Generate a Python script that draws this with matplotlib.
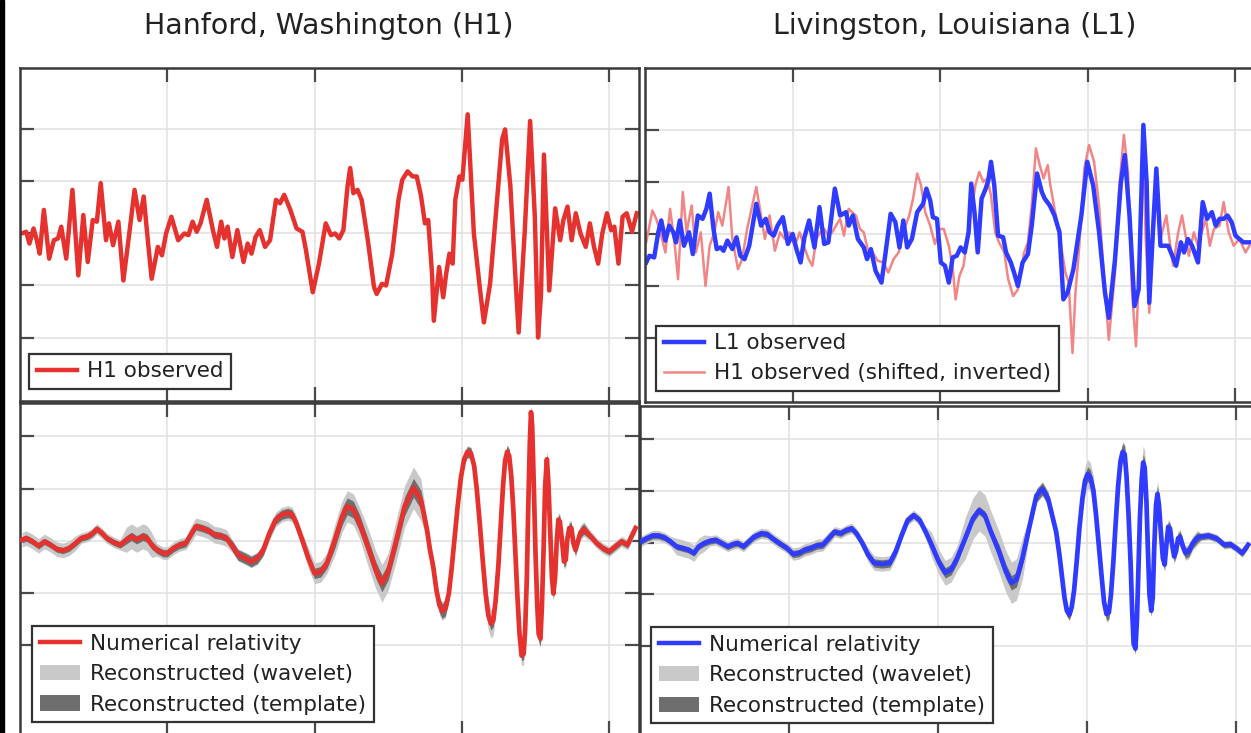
import numpy as np
import matplotlib
matplotlib.use("Agg")
import matplotlib.pyplot as plt
from matplotlib.patches import Patch, Rectangle
from matplotlib.lines import Line2D

# time (s) and strain (10^-21) for each trace

# Hanford, observed
h1_t = [0.2505, 0.2521, 0.2532, 0.2546, 0.2557, 0.2567, 0.2581, 0.2599, 0.2615, 0.2629,
        0.2640, 0.2657, 0.2678, 0.2698, 0.2715, 0.2730, 0.2747, 0.2761, 0.2774, 0.2792,
        0.2802, 0.2816, 0.2834, 0.2851, 0.2871, 0.2889, 0.2906, 0.2920, 0.2934, 0.2947,
        0.2968, 0.2982, 0.2996, 0.3014, 0.3037, 0.3058, 0.3072, 0.3086, 0.3100, 0.3113,
        0.3134, 0.3155, 0.3169, 0.3183, 0.3194, 0.3205, 0.3221, 0.3238, 0.3259, 0.3273,
        0.3286, 0.3300, 0.3314, 0.3332, 0.3349, 0.3369, 0.3383, 0.3397, 0.3418, 0.3439,
        0.3459, 0.3471, 0.3494, 0.3515, 0.3538, 0.3556, 0.3570, 0.3584, 0.3598, 0.3612,
        0.3621, 0.3632, 0.3646, 0.3660, 0.3681, 0.3702, 0.3711, 0.3729, 0.3743, 0.3764,
        0.3785, 0.3798, 0.3816, 0.3833, 0.3847, 0.3861, 0.3875, 0.3886, 0.3899, 0.3905,
        0.3923, 0.3937, 0.3947, 0.3958, 0.3969, 0.3978, 0.3992, 0.4002, 0.4020, 0.4041,
        0.4061, 0.4075, 0.4096, 0.4117, 0.4137, 0.4147, 0.4165, 0.4182, 0.4193, 0.4214,
        0.4232, 0.4248, 0.4259, 0.4269, 0.4279, 0.4297, 0.4317, 0.4334, 0.4345, 0.4359,
        0.4373, 0.4387, 0.4403, 0.4421, 0.4435, 0.4449, 0.4463, 0.4477, 0.4493, 0.4507,
        0.4518, 0.4532, 0.4546, 0.4560, 0.4578, 0.4594]
h1_obs = [0.000, 0.016, -0.097, 0.048, -0.065, -0.194, 0.226, -0.242, -0.065, -0.048,
          0.065, -0.242, 0.419, -0.403, 0.177, -0.274, 0.129, 0.113, 0.484, -0.065,
          0.097, -0.113, 0.113, -0.452, 0.000, 0.419, 0.129, 0.355, -0.065, -0.435,
          -0.129, -0.210, 0.000, 0.161, -0.065, 0.000, -0.016, 0.113, 0.016, 0.097,
          0.323, 0.032, -0.129, 0.113, -0.048, 0.065, -0.226, 0.032, -0.274, -0.097,
          -0.194, -0.032, 0.032, -0.129, -0.065, 0.323, 0.290, 0.371, 0.226, 0.048,
          0.016, -0.161, -0.565, -0.290, 0.097, -0.016, 0.000, -0.048, 0.032, 0.452,
          0.629, 0.387, 0.419, 0.323, -0.065, -0.516, -0.581, -0.484, -0.500, -0.194,
          0.323, 0.516, 0.597, 0.548, 0.548, 0.371, 0.097, 0.129, -0.387, -0.839,
          -0.323, -0.613, -0.387, -0.194, -0.290, 0.323, 0.548, 0.516, 1.145, 0.000,
          -0.516, -0.855, -0.484, 0.226, 0.903, 1.000, 0.452, -0.419, -0.952, 0.032,
          1.081, 0.161, -1.000, -0.581, 0.758, -0.548, 0.242, -0.065, 0.129, 0.258,
          -0.065, 0.194, 0.000, -0.129, 0.097, -0.129, -0.290, 0.000, 0.194, 0.032,
          0.065, -0.290, 0.161, 0.194, 0.016, 0.194]

# Livingston, observed
l1_t = [0.2504, 0.2515, 0.2531, 0.2545, 0.2555, 0.2569, 0.2582, 0.2596, 0.2605, 0.2618,
        0.2632, 0.2649, 0.2662, 0.2679, 0.2695, 0.2708, 0.2719, 0.2732, 0.2743, 0.2756,
        0.2766, 0.2779, 0.2796, 0.2810, 0.2823, 0.2837, 0.2853, 0.2877, 0.2893, 0.2909,
        0.2922, 0.2936, 0.2949, 0.2967, 0.2984, 0.3000, 0.3013, 0.3027, 0.3040, 0.3056,
        0.3074, 0.3091, 0.3107, 0.3121, 0.3143, 0.3161, 0.3181, 0.3190, 0.3204, 0.3221,
        0.3241, 0.3252, 0.3265, 0.3281, 0.3301, 0.3315, 0.3332, 0.3348, 0.3362, 0.3375,
        0.3388, 0.3404, 0.3422, 0.3442, 0.3453, 0.3466, 0.3475, 0.3489, 0.3502, 0.3516,
        0.3529, 0.3542, 0.3556, 0.3569, 0.3583, 0.3596, 0.3605, 0.3616, 0.3627, 0.3640,
        0.3654, 0.3663, 0.3672, 0.3683, 0.3696, 0.3713, 0.3723, 0.3739, 0.3750, 0.3763,
        0.3779, 0.3797, 0.3810, 0.3828, 0.3844, 0.3854, 0.3871, 0.3887, 0.3904, 0.3917,
        0.3931, 0.3951, 0.3978, 0.3998, 0.4018, 0.4038, 0.4058, 0.4071, 0.4092, 0.4112,
        0.4125, 0.4141, 0.4158, 0.4172, 0.4188, 0.4199, 0.4208, 0.4219, 0.4232, 0.4246,
        0.4259, 0.4272, 0.4286, 0.4299, 0.4315, 0.4326, 0.4339, 0.4353, 0.4373, 0.4389,
        0.4404, 0.4420, 0.4433, 0.4446, 0.4460, 0.4473, 0.4487, 0.4500, 0.4513, 0.4527,
        0.4547]
l1_obs = [-0.273, -0.209, -0.225, 0.016, 0.129, -0.064, 0.080, 0.016, -0.080, 0.129,
          -0.113, 0.016, -0.193, 0.177, 0.145, 0.241, 0.386, 0.048, -0.145, -0.129,
          -0.161, -0.064, -0.145, -0.032, -0.209, -0.241, -0.113, 0.289, 0.080, 0.145,
          0.016, -0.016, 0.080, 0.161, -0.096, 0.000, -0.145, -0.273, -0.032, 0.129,
          -0.129, 0.257, -0.096, -0.080, 0.434, 0.177, 0.209, 0.080, 0.177, -0.048,
          -0.129, -0.241, -0.145, -0.354, -0.466, -0.177, 0.193, 0.113, -0.129, 0.129,
          -0.129, -0.048, 0.209, 0.289, 0.434, 0.322, 0.161, 0.145, -0.273, -0.305,
          -0.466, -0.225, -0.209, -0.129, -0.177, 0.016, 0.482, 0.209, -0.177, 0.338,
          0.434, 0.514, 0.691, 0.466, -0.016, -0.032, -0.177, -0.273, -0.370, -0.498,
          -0.273, -0.193, 0.080, 0.579, 0.402, 0.338, 0.273, 0.177, 0.016, -0.627,
          -0.563, -0.338, 0.177, 0.691, 0.466, 0.016, -0.563, -0.804, -0.241, 0.498,
          0.756, 0.177, -0.691, -0.531, 1.045, 0.498, -0.659, -0.048, 0.627, -0.113,
          -0.113, -0.113, -0.209, -0.305, -0.080, -0.177, -0.048, -0.113, -0.273, 0.305,
          0.145, 0.209, 0.080, 0.145, 0.145, 0.177, 0.113, -0.016, -0.048, -0.080,
          -0.080]

# Hanford, shifted and sign-flipped for comparison with Livingston
h1s_t = [0.2504, 0.2525, 0.2538, 0.2555, 0.2569, 0.2585, 0.2601, 0.2612, 0.2628, 0.2641,
         0.2658, 0.2672, 0.2689, 0.2705, 0.2719, 0.2735, 0.2748, 0.2762, 0.2783, 0.2796,
         0.2815, 0.2829, 0.2846, 0.2877, 0.2893, 0.2906, 0.2922, 0.2940, 0.2957, 0.2973,
         0.2989, 0.3007, 0.3024, 0.3040, 0.3054, 0.3067, 0.3080, 0.3094, 0.3107, 0.3121,
         0.3134, 0.3147, 0.3161, 0.3174, 0.3190, 0.3201, 0.3214, 0.3228, 0.3241, 0.3254,
         0.3271, 0.3288, 0.3308, 0.3324, 0.3342, 0.3359, 0.3375, 0.3395, 0.3408, 0.3422,
         0.3435, 0.3449, 0.3466, 0.3482, 0.3498, 0.3512, 0.3529, 0.3542, 0.3552, 0.3565,
         0.3579, 0.3592, 0.3605, 0.3619, 0.3632, 0.3646, 0.3659, 0.3672, 0.3686, 0.3699,
         0.3717, 0.3730, 0.3747, 0.3763, 0.3784, 0.3797, 0.3810, 0.3824, 0.3837, 0.3850,
         0.3864, 0.3873, 0.3887, 0.3900, 0.3913, 0.3924, 0.3935, 0.3948, 0.3958, 0.3971,
         0.3988, 0.4004, 0.4021, 0.4038, 0.4055, 0.4071, 0.4092, 0.4105, 0.4122, 0.4136,
         0.4149, 0.4163, 0.4179, 0.4188, 0.4196, 0.4208, 0.4221, 0.4232, 0.4246, 0.4266,
         0.4276, 0.4289, 0.4306, 0.4319, 0.4333, 0.4342, 0.4359, 0.4373, 0.4386, 0.4400,
         0.4413, 0.4427, 0.4446, 0.4460, 0.4477, 0.4494, 0.4513, 0.4534, 0.4547]
h1s_obs = [-0.080, 0.225, 0.145, -0.016, -0.177, 0.241, -0.113, -0.434, 0.402, 0.016,
           0.273, -0.177, 0.016, -0.498, -0.113, 0.016, 0.209, 0.080, 0.450, -0.048,
           -0.338, -0.241, 0.048, 0.450, 0.177, -0.048, 0.177, -0.161, 0.016, -0.048,
           0.016, -0.113, 0.016, -0.129, -0.241, -0.305, -0.048, 0.016, 0.048, -0.016,
           0.016, 0.080, 0.145, -0.016, 0.241, 0.209, 0.177, 0.048, 0.016, -0.145,
           -0.177, -0.257, -0.273, -0.370, -0.241, -0.177, 0.016, 0.177, 0.338, 0.579,
           0.466, 0.209, 0.080, -0.096, 0.048, 0.048, -0.113, -0.322, -0.627, -0.402,
           -0.305, -0.016, 0.209, 0.466, 0.595, 0.498, 0.531, 0.370, 0.016, -0.080,
           -0.177, -0.434, -0.595, -0.531, -0.177, -0.080, 0.273, 0.820, 0.659, 0.531,
           0.659, 0.466, 0.241, 0.048, -0.177, -0.370, -0.466, -1.141, -0.563, -0.113,
           0.627, 0.852, 0.691, 0.273, -0.434, -1.013, -0.370, 0.402, 0.949, 0.595,
           -0.531, -1.077, 0.016, 0.788, -0.048, -0.756, -0.048, 0.498, -0.048, 0.177,
           -0.048, -0.305, 0.016, 0.177, -0.048, -0.209, 0.016, -0.113, 0.016, 0.145,
           -0.113, 0.048, 0.080, 0.305, 0.016, -0.113, -0.048, -0.177, -0.113]

# Hanford: numerical relativity waveform, half-widths of the two reconstruction bands
nr_h1_t = [0.2507, 0.2521, 0.2542, 0.2563, 0.2583, 0.2604, 0.2625, 0.2646, 0.2667, 0.2688,
           0.2708, 0.2729, 0.2747, 0.2761, 0.2778, 0.2794, 0.2819, 0.2840, 0.2861, 0.2878,
           0.2896, 0.2917, 0.2931, 0.2947, 0.2965, 0.2986, 0.3000, 0.3021, 0.3042, 0.3063,
           0.3083, 0.3097, 0.3118, 0.3139, 0.3160, 0.3181, 0.3201, 0.3222, 0.3240, 0.3264,
           0.3285, 0.3306, 0.3326, 0.3347, 0.3368, 0.3389, 0.3410, 0.3424, 0.3438, 0.3458,
           0.3479, 0.3500, 0.3521, 0.3542, 0.3569, 0.3594, 0.3611, 0.3632, 0.3653, 0.3681,
           0.3708, 0.3729, 0.3750, 0.3778, 0.3806, 0.3836, 0.3861,
           0.3882, 0.3892, 0.3903, 0.3914, 0.3924, 0.3933, 0.3944, 0.3956, 0.3965, 0.3975,
           0.3986, 0.3997, 0.4008, 0.4019, 0.4031, 0.4042, 0.4051, 0.4061, 0.4071, 0.4081,
           0.4090, 0.4099, 0.4107, 0.4115, 0.4124, 0.4132, 0.4140, 0.4147, 0.4154, 0.4161,
           0.4168, 0.4175, 0.4182, 0.4189, 0.4196, 0.4203, 0.4210, 0.4215, 0.4221, 0.4226,
           0.4231, 0.4235, 0.4239, 0.4244, 0.4250, 0.4256, 0.4261, 0.4267, 0.4272, 0.4278,
           0.4283, 0.4289, 0.4294, 0.4300, 0.4306, 0.4311, 0.4317, 0.4322, 0.4328, 0.4333,
           0.4340, 0.4347, 0.4353, 0.4358, 0.4365, 0.4372, 0.4379, 0.4386, 0.4394, 0.4403,
           0.4414, 0.4438, 0.4458, 0.4479, 0.4500, 0.4521, 0.4542, 0.4563, 0.4576, 0.4590]
nr_h1 = [0.010, 0.026, -0.006, -0.048, -0.006, -0.039, -0.080, -0.093, -0.071, -0.023,
         0.026, 0.042, 0.074, 0.113, 0.074, 0.026, -0.016, -0.039, 0.010, 0.042,
         0.010, 0.042, 0.026, -0.039, -0.087, -0.119, -0.119, -0.071, -0.039, -0.023,
         0.074, 0.138, 0.122, 0.100, 0.058, 0.048, 0.026, -0.055, -0.135, -0.167,
         -0.199, -0.167, -0.087, 0.074, 0.203, 0.251, 0.267, 0.251, 0.170, 0.010,
         -0.167, -0.312, -0.296, -0.215, 0.010, 0.235, 0.331, 0.299, 0.170, -0.055,
         -0.280, -0.408, -0.296, 0.010, 0.331, 0.508, 0.395,
         0.106, -0.087, -0.248, -0.473, -0.617, -0.672, -0.650, -0.505, -0.280, 0.010,
         0.331, 0.605, 0.781, 0.852, 0.839, 0.717, 0.492, 0.170, -0.183, -0.505,
         -0.714, -0.794, -0.762, -0.569, -0.248, 0.138, 0.524, 0.765, 0.852, 0.814,
         0.621, 0.299, -0.119, -0.537, -0.891, -1.100, -1.084, -0.859, -0.344, 0.363,
         0.942, 1.232, 1.103, 0.588, -0.087, -0.601, -0.891, -0.939, -0.633, -0.055,
         0.524, 0.781, 0.556, 0.106, -0.344, -0.505, -0.344, -0.023, 0.203, 0.186,
         0.010, -0.199, -0.183, 0.010, 0.122, 0.122, -0.023, -0.087, -0.006, 0.080,
         0.113, 0.042, -0.023, -0.071, -0.103, -0.055, -0.006, -0.039, 0.042, 0.122]
tmpl_h1 = [0.03, 0.03, 0.03, 0.03, 0.03, 0.03, 0.03, 0.03, 0.03, 0.03,
           0.03, 0.03, 0.03, 0.03, 0.03, 0.03, 0.03, 0.03, 0.04, 0.04,
           0.04, 0.04, 0.04, 0.04, 0.035, 0.035, 0.035, 0.035, 0.035, 0.035,
           0.035, 0.035, 0.035, 0.035, 0.035, 0.035, 0.035, 0.05, 0.05, 0.05,
           0.05, 0.05, 0.05, 0.045, 0.045, 0.045, 0.045, 0.045, 0.045, 0.045,
           0.05, 0.05, 0.05, 0.05, 0.08, 0.08, 0.08, 0.08, 0.08, 0.08,
           0.08, 0.08, 0.08, 0.09, 0.09, 0.09, 0.09,
           0.07, 0.07, 0.07, 0.07, 0.07, 0.07, 0.07, 0.07, 0.05, 0.05,
           0.05, 0.05, 0.05, 0.05, 0.05, 0.05, 0.05, 0.05, 0.05, 0.06,
           0.06, 0.06, 0.06, 0.06, 0.06, 0.06, 0.06, 0.06, 0.06, 0.06,
           0.06, 0.05, 0.05, 0.05, 0.05, 0.05, 0.05, 0.05, 0.05, 0.05,
           0.05, 0.05, 0.05, 0.05, 0.07, 0.07, 0.07, 0.07, 0.07, 0.07,
           0.06, 0.06, 0.06, 0.06, 0.06, 0.05, 0.05, 0.05, 0.05, 0.05,
           0.05, 0.05, 0.05, 0.05, 0.05, 0.05, 0.05, 0.05, 0.05, 0.05,
           0.05, 0.03, 0.03, 0.03, 0.03, 0.03, 0.03, 0.03, 0.03, 0.03]
wave_h1 = [0.07, 0.07, 0.07, 0.07, 0.07, 0.07, 0.07, 0.07, 0.07, 0.07,
           0.05, 0.05, 0.05, 0.05, 0.05, 0.05, 0.05, 0.05, 0.12, 0.12,
           0.12, 0.12, 0.12, 0.12, 0.06, 0.06, 0.06, 0.06, 0.06, 0.06,
           0.08, 0.08, 0.08, 0.08, 0.08, 0.08, 0.08, 0.06, 0.06, 0.06,
           0.06, 0.06, 0.06, 0.07, 0.07, 0.07, 0.07, 0.07, 0.07, 0.07,
           0.10, 0.10, 0.10, 0.10, 0.15, 0.15, 0.15, 0.15, 0.15, 0.18,
           0.18, 0.18, 0.18, 0.20, 0.20, 0.20, 0.20,
           0.09, 0.09, 0.09, 0.09, 0.09, 0.09, 0.09, 0.09, 0.06, 0.06,
           0.06, 0.06, 0.06, 0.06, 0.06, 0.06, 0.06, 0.06, 0.06, 0.14,
           0.14, 0.14, 0.14, 0.14, 0.14, 0.07, 0.07, 0.07, 0.07, 0.07,
           0.07, 0.10, 0.10, 0.10, 0.10, 0.10, 0.10, 0.10, 0.06, 0.06,
           0.06, 0.06, 0.06, 0.06, 0.08, 0.08, 0.08, 0.08, 0.08, 0.08,
           0.08, 0.08, 0.08, 0.08, 0.08, 0.07, 0.07, 0.07, 0.07, 0.07,
           0.07, 0.07, 0.07, 0.07, 0.07, 0.07, 0.07, 0.07, 0.07, 0.07,
           0.07, 0.05, 0.05, 0.05, 0.05, 0.05, 0.05, 0.05, 0.05, 0.05]

# Livingston: numerical relativity waveform, half-widths of the two reconstruction bands
nr_l1_t = [0.2502, 0.2522, 0.2542, 0.2562, 0.2582, 0.2602, 0.2622, 0.2642, 0.2662, 0.2681,
           0.2697, 0.2715, 0.2735, 0.2754, 0.2774, 0.2794, 0.2812, 0.2827, 0.2847, 0.2865,
           0.2883, 0.2907, 0.2927, 0.2944, 0.2967, 0.2993, 0.3013, 0.3033, 0.3053, 0.3073,
           0.3093, 0.3113, 0.3133, 0.3153, 0.3173, 0.3192, 0.3210, 0.3226, 0.3246, 0.3265,
           0.3285, 0.3312, 0.3338, 0.3358, 0.3378, 0.3398, 0.3418, 0.3438, 0.3458, 0.3478,
           0.3504, 0.3524, 0.3544, 0.3564, 0.3591, 0.3617, 0.3637, 0.3657, 0.3677, 0.3704,
           0.3727, 0.3746, 0.3763, 0.3783, 0.3810, 0.3830, 0.3850, 0.3869,
           0.3896, 0.3907, 0.3916, 0.3924, 0.3932, 0.3940, 0.3948, 0.3956, 0.3965, 0.3974,
           0.3984, 0.3993, 0.4002, 0.4011, 0.4021, 0.4030, 0.4039, 0.4049, 0.4057, 0.4065,
           0.4073, 0.4080, 0.4088, 0.4096, 0.4104, 0.4112, 0.4119, 0.4126, 0.4132, 0.4139,
           0.4146, 0.4151, 0.4156, 0.4162, 0.4167, 0.4172, 0.4177, 0.4183, 0.4188, 0.4193,
           0.4199, 0.4204, 0.4209, 0.4215, 0.4220, 0.4225, 0.4231, 0.4236, 0.4241, 0.4248,
           0.4254, 0.4260, 0.4266, 0.4272, 0.4278, 0.4285, 0.4292, 0.4298, 0.4305, 0.4312,
           0.4321, 0.4330, 0.4341, 0.4354, 0.4370, 0.4381, 0.4407, 0.4434, 0.4460, 0.4480,
           0.4500, 0.4520, 0.4540]
nr_l1 = [0.010, 0.041, 0.067, 0.067, 0.048, 0.010, -0.038, -0.054, -0.070, -0.102,
         -0.038, -0.006, 0.016, 0.025, -0.006, -0.038, -0.016, -0.006, -0.038, 0.010,
         0.057, 0.089, 0.080, 0.041, -0.006, -0.054, -0.111, -0.102, -0.070, -0.054,
         -0.029, -0.022, 0.041, 0.105, 0.089, 0.121, 0.137, 0.089, -0.006, -0.118,
         -0.197, -0.207, -0.197, -0.086, 0.073, 0.217, 0.264, 0.217, 0.105, -0.022,
         -0.197, -0.293, -0.261, -0.150, 0.041, 0.232, 0.312, 0.264, 0.105, -0.086,
         -0.277, -0.389, -0.357, -0.150, 0.201, 0.455, 0.519, 0.424,
         0.105, -0.118, -0.341, -0.532, -0.659, -0.697, -0.627, -0.468, -0.182, 0.137,
         0.424, 0.599, 0.662, 0.631, 0.503, 0.264, -0.022, -0.341, -0.580, -0.691,
         -0.675, -0.500, -0.182, 0.201, 0.551, 0.790, 0.876, 0.854, 0.646, 0.264,
         -0.213, -0.659, -0.978, -1.025, -0.755, -0.277, 0.232, 0.615, 0.774, 0.726,
         0.392, -0.086, -0.500, -0.659, -0.532, -0.054, 0.360, 0.471, 0.360, 0.073,
         -0.150, -0.213, -0.022, 0.153, 0.137, -0.022, -0.134, -0.086, 0.041, 0.057,
         -0.038, -0.102, -0.086, -0.006, 0.048, 0.057, 0.067, 0.041, -0.022, -0.016,
         -0.054, -0.102, -0.022]
tmpl_l1 = [0.03, 0.03, 0.03, 0.03, 0.03, 0.03, 0.03, 0.03, 0.03, 0.03,
           0.03, 0.03, 0.03, 0.03, 0.03, 0.03, 0.03, 0.03, 0.03, 0.03,
           0.03, 0.03, 0.03, 0.03, 0.03, 0.03, 0.035, 0.035, 0.035, 0.035,
           0.035, 0.035, 0.035, 0.03, 0.03, 0.03, 0.03, 0.03, 0.03, 0.04,
           0.04, 0.04, 0.04, 0.04, 0.03, 0.03, 0.03, 0.03, 0.03, 0.05,
           0.05, 0.05, 0.05, 0.05, 0.04, 0.04, 0.04, 0.04, 0.04, 0.07,
           0.07, 0.07, 0.07, 0.07, 0.06, 0.06, 0.06, 0.06,
           0.05, 0.05, 0.05, 0.05, 0.05, 0.05, 0.05, 0.05, 0.05, 0.07,
           0.07, 0.07, 0.07, 0.07, 0.07, 0.07, 0.07, 0.06, 0.06, 0.06,
           0.06, 0.06, 0.06, 0.08, 0.08, 0.08, 0.08, 0.08, 0.08, 0.08,
           0.04, 0.04, 0.04, 0.04, 0.04, 0.04, 0.08, 0.08, 0.08, 0.08,
           0.08, 0.05, 0.05, 0.05, 0.05, 0.05, 0.08, 0.08, 0.08, 0.08,
           0.05, 0.05, 0.05, 0.05, 0.05, 0.05, 0.05, 0.05, 0.05, 0.05,
           0.05, 0.05, 0.05, 0.05, 0.05, 0.03, 0.03, 0.03, 0.03, 0.03,
           0.03, 0.03, 0.03]
wave_l1 = [0.05, 0.05, 0.05, 0.05, 0.05, 0.05, 0.08, 0.08, 0.08, 0.08,
           0.08, 0.08, 0.05, 0.05, 0.05, 0.05, 0.05, 0.05, 0.05, 0.05,
           0.05, 0.05, 0.05, 0.05, 0.05, 0.05, 0.06, 0.06, 0.06, 0.06,
           0.06, 0.06, 0.06, 0.05, 0.05, 0.05, 0.05, 0.05, 0.05, 0.07,
           0.07, 0.07, 0.07, 0.07, 0.05, 0.05, 0.05, 0.05, 0.05, 0.12,
           0.12, 0.12, 0.12, 0.12, 0.20, 0.20, 0.20, 0.20, 0.20, 0.20,
           0.20, 0.20, 0.20, 0.20, 0.07, 0.07, 0.07, 0.07,
           0.06, 0.06, 0.06, 0.06, 0.06, 0.06, 0.06, 0.06, 0.06, 0.14,
           0.14, 0.14, 0.14, 0.14, 0.14, 0.14, 0.14, 0.08, 0.08, 0.08,
           0.08, 0.08, 0.08, 0.10, 0.10, 0.10, 0.10, 0.10, 0.10, 0.10,
           0.06, 0.06, 0.06, 0.06, 0.06, 0.06, 0.16, 0.16, 0.16, 0.16,
           0.16, 0.06, 0.06, 0.06, 0.06, 0.06, 0.12, 0.12, 0.12, 0.12,
           0.07, 0.07, 0.07, 0.07, 0.07, 0.07, 0.07, 0.07, 0.07, 0.07,
           0.07, 0.07, 0.07, 0.07, 0.07, 0.04, 0.04, 0.04, 0.04, 0.04,
           0.04, 0.04, 0.04]

sites = ["Hanford, Washington (H1)", "Livingston, Louisiana (L1)"]
time_ticks = [0.30, 0.35, 0.40, 0.45]
strain_ticks = [-1.0, -0.5, 0.0, 0.5, 1.0]

RED = "#e5322e"
BLUE = "#2f3cff"
PINK = "#f28585"
LIGHT = "#c9c9c9"
DARK = "#6e6e6e"

W, H = 1251, 733
fig = plt.figure(figsize=(W / 100, H / 100), dpi=100)
fig.patch.set_facecolor("white")


def px_box(x0, y0, x1, y1):
    return [x0 / W, 1 - y1 / H, (x1 - x0) / W, (y1 - y0) / H]


def style(ax, ylim):
    ax.set_xlim(0.25, 0.46)
    ax.set_ylim(*ylim)
    ax.set_xticks(time_ticks)
    ax.set_yticks(strain_ticks)
    ax.tick_params(direction="in", length=10, width=1.6, color="#4a4a4a",
                   top=True, right=True, labelbottom=False, labelleft=False)
    ax.grid(True, color="#e3e3e3", lw=1.2)
    ax.set_axisbelow(True)
    for s in ax.spines.values():
        s.set_color("#3a3a3a")
        s.set_linewidth(1.8)


def legend(ax, handles, labels, anchor):
    leg = ax.legend(handles, labels, loc="lower left", bbox_to_anchor=anchor,
                    borderaxespad=0, fontsize=15.5, fancybox=False, framealpha=1,
                    edgecolor="#333333", handlelength=1.9, handletextpad=0.45,
                    borderpad=0.35, labelspacing=0.48)
    leg.get_frame().set_linewidth(1.6)
    for txt in leg.get_texts():
        txt.set_color("#222222")
    return leg


top_lim = (-1.61, 1.59)
bot_lim = (-1.86, 1.32)

ax_h1 = fig.add_axes(px_box(20, 68, 638.5, 401))
ax_l1 = fig.add_axes(px_box(645, 68, 1265, 402))
ax_h1nr = fig.add_axes(px_box(20, 403, 638.5, 735))
ax_l1nr = fig.add_axes(px_box(640, 406, 1266, 735))

for ax in (ax_h1, ax_l1):
    style(ax, top_lim)
for ax in (ax_h1nr, ax_l1nr):
    style(ax, bot_lim)

# top row: observed strain
ax_h1.plot(h1_t, h1_obs, color=RED, lw=3.2, solid_joinstyle="round")
legend(ax_h1, [Line2D([], [], color=RED, lw=3.2)], ["H1 observed"], (0.0146, 0.036))

ax_l1.plot(h1s_t, h1s_obs, color=PINK, lw=1.8, solid_joinstyle="round")
ax_l1.plot(l1_t, l1_obs, color=BLUE, lw=3.2, solid_joinstyle="round")
legend(ax_l1, [Line2D([], [], color=BLUE, lw=3.2), Line2D([], [], color=PINK, lw=1.8)],
       ["L1 observed", "H1 observed (shifted, inverted)"], (0.0177, 0.033))

# bottom row: numerical relativity vs reconstructions
band_labels = ["Numerical relativity", "Reconstructed (wavelet)", "Reconstructed (template)"]
for ax, t, y, tw, tt, col, anchor in (
        (ax_h1nr, nr_h1_t, nr_h1, wave_h1, tmpl_h1, RED, (0.0194, 0.039)),
        (ax_l1nr, nr_l1_t, nr_l1, wave_l1, tmpl_l1, BLUE, (0.0176, 0.036))):
    t = np.array(t)
    y = np.array(y)
    ax.fill_between(t, y - np.array(tw), y + np.array(tw), color=LIGHT, lw=0, zorder=1)
    ax.fill_between(t, y - np.array(tt), y + np.array(tt), color=DARK, lw=0, zorder=2)
    ax.plot(t, y, color=col, lw=3.4, solid_joinstyle="round", zorder=3)
    legend(ax, [Line2D([], [], color=col, lw=3.2),
                Patch(facecolor=LIGHT, edgecolor="none"),
                Patch(facecolor=DARK, edgecolor="none")], band_labels, anchor)

fig.text(329 / W, 1 - 26 / H, sites[0], ha="center", va="center",
         fontsize=20.5, color="#222222")
fig.text(955 / W, 1 - 26 / H, sites[1], ha="center", va="center",
         fontsize=20.5, color="#222222")

# dark strip along the left edge
fig.add_artist(Rectangle((0, 0), 4 / W, 1, transform=fig.transFigure,
                         color="black", zorder=10))

fig.savefig("out.png", dpi=100)
